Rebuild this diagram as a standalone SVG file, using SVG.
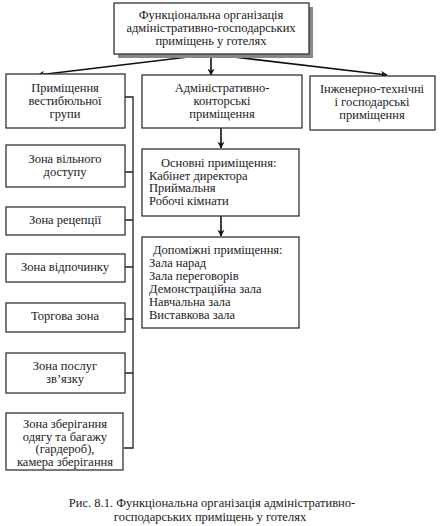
<svg xmlns="http://www.w3.org/2000/svg" width="441" height="526" viewBox="0 0 441 526">
<style>
.box{fill:#fff;stroke:#333;stroke-width:1.3}
.t{font-family:"Liberation Serif","Times New Roman",serif;font-size:12.5px;fill:#1a1a1a}
.c{text-anchor:middle}
.ln{fill:none;stroke:#222;stroke-width:1.3}
.ar{fill:none;stroke:#111;stroke-width:1.6}
</style>
<defs>
<marker id="ah" viewBox="0 0 10 10" refX="9" refY="5" markerWidth="7" markerHeight="7" markerUnits="userSpaceOnUse" orient="auto">
<path d="M0,0 L10,5 L0,10 L3,5 Z" fill="#111"/>
</marker>
</defs>
<rect width="441" height="526" fill="#fff"/>
<g id="connectors">
<line class="ar" x1="211" y1="55" x2="211" y2="75" marker-end="url(#ah)"/>
<line class="ar" x1="205" y1="55" x2="38" y2="75" marker-end="url(#ah)"/>
<line class="ar" x1="217" y1="55" x2="387" y2="75" marker-end="url(#ah)"/>
<line class="ar" x1="221" y1="128" x2="221" y2="148" marker-end="url(#ah)"/>
<line class="ar" x1="221" y1="216" x2="221" y2="236" marker-end="url(#ah)"/>
<path class="ln" d="M125,97 H133 V448 H124 M125,172 H133 M125,220 H133 M125,267 H133 M125,319 H133 M125,373 H133"/>
</g>
<g id="top">
<rect x="118" y="7" width="195" height="51" fill="#888"/>
<rect class="box" x="114" y="3" width="195" height="51"/>
<text class="t c" x="211" y="19">Функціональна організація</text>
<text class="t c" x="211" y="32">адміністративно-господарських</text>
<text class="t c" x="211" y="45">приміщень у готелях</text>
</g>
<g id="vestibule">
<rect class="box" x="6" y="74" width="119" height="54"/>
<text class="t c" x="65" y="92">Приміщення</text>
<text class="t c" x="65" y="105">вестибюльної</text>
<text class="t c" x="65" y="118">групи</text>
</g>
<g id="free">
<rect class="box" x="6" y="145" width="119" height="42"/>
<text class="t c" x="65" y="163">Зона вільного</text>
<text class="t c" x="65" y="176">доступу</text>
</g>
<g id="reception">
<rect class="box" x="6" y="207" width="119" height="28"/>
<text class="t c" x="65" y="224">Зона рецепції</text>
</g>
<g id="rest">
<rect class="box" x="6" y="254" width="119" height="28"/>
<text class="t c" x="65" y="271">Зона відпочинку</text>
</g>
<g id="trade">
<rect class="box" x="6" y="303" width="119" height="29"/>
<text class="t c" x="65" y="320">Торгова зона</text>
</g>
<g id="comm">
<rect class="box" x="6" y="353" width="119" height="40"/>
<text class="t c" x="65" y="370">Зона послуг</text>
<text class="t c" x="65" y="383">зв’язку</text>
</g>
<g id="storage">
<rect class="box" x="6" y="413" width="117" height="57"/>
<text class="t c" x="65" y="428">Зона зберігання</text>
<text class="t c" x="65" y="440.5">одягу та багажу</text>
<text class="t c" x="65" y="453">(гардероб),</text>
<text class="t c" x="65" y="465.5">камера зберігання</text>
</g>
<g id="admin">
<rect class="box" x="142" y="75" width="160" height="53"/>
<text class="t c" x="222" y="92">Адміністративно-</text>
<text class="t c" x="222" y="105">конторські</text>
<text class="t c" x="222" y="118">приміщення</text>
</g>
<g id="engineering">
<rect class="box" x="310" y="76" width="125" height="54"/>
<text class="t c" x="372" y="93">Інженерно-технічні</text>
<text class="t c" x="372" y="106">і господарські</text>
<text class="t c" x="372" y="119">приміщення</text>
</g>
<g id="main">
<rect class="box" x="142" y="149" width="157" height="67"/>
<text class="t" x="161" y="167">Основні приміщення:</text>
<text class="t" x="149" y="179.5">Кабінет директора</text>
<text class="t" x="149" y="192">Приймальня</text>
<text class="t" x="149" y="204.5">Робочі кімнати</text>
</g>
<g id="aux">
<rect class="box" x="142" y="237" width="157" height="91"/>
<text class="t" x="153" y="254">Допоміжні приміщення:</text>
<text class="t" x="149" y="267">Зала нарад</text>
<text class="t" x="149" y="280">Зала переговорів</text>
<text class="t" x="149" y="293">Демонстраційна зала</text>
<text class="t" x="149" y="306">Навчальна зала</text>
<text class="t" x="149" y="319">Виставкова зала</text>
</g>
<g id="caption">
<text class="t c" x="212" y="507">Рис. 8.1. Функціональна організація адміністративно-</text>
<text class="t c" x="210" y="521">господарських приміщень у готелях</text>
</g>
</svg>
